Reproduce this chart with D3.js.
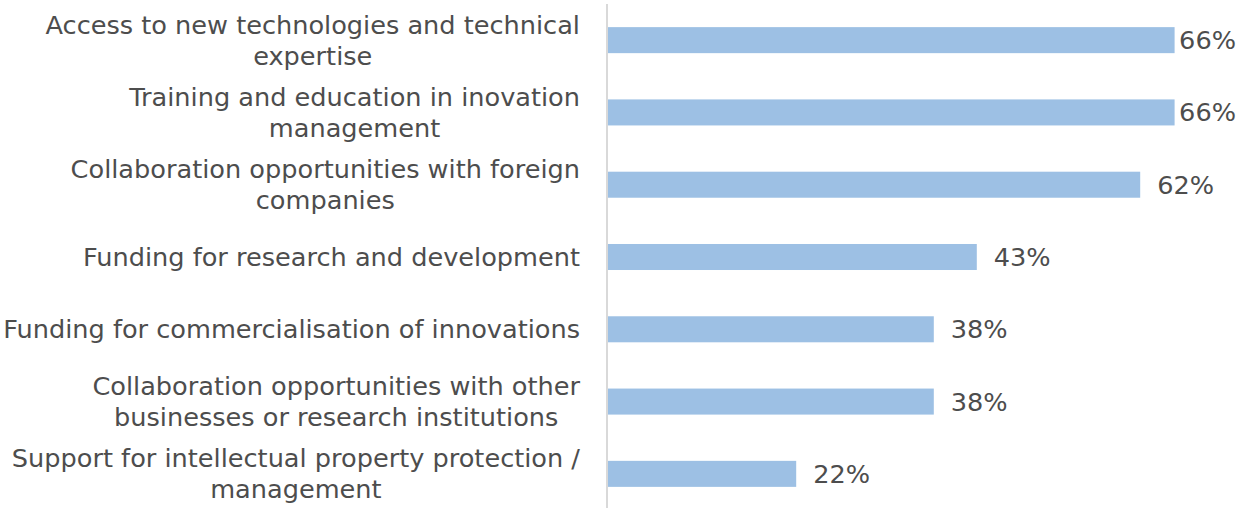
<!DOCTYPE html>
<html>
<head>
<meta charset="utf-8">
<script src="https://cdn.jsdelivr.net/npm/d3@7"></script>
<style>
  html, body { margin: 0; padding: 0; background: #fff; }
  svg { display: block; }
  text { font-family: "DejaVu Sans", sans-serif; fill: #4d4d4d; }
</style>
</head>
<body>
<svg id="chart" width="1239" height="508"></svg>
<script>
// Category labels, already broken into display lines
const categoryLines = [
  ["Access to new technologies and technical", "expertise"],
  ["Training and education in inovation", "management"],
  ["Collaboration opportunities with foreign", "companies"],
  ["Funding for research and development"],
  ["Funding for commercialisation of innovations"],
  ["Collaboration opportunities with other", "businesses or research institutions"],
  ["Support for intellectual property protection /", "management"]
];
const categories = categoryLines.map(l => l.join(" "));
// Share of respondents (%)
const values = [66, 66, 62, 43, 38, 38, 22];

const W = 1239, H = 508;
const svg = d3.select("#chart");

const axisX = 607;
const labelRight = 580;
const valueRight = 1236;
const fontSize = 25.6;
const lineGap = 31;

const x = d3.scaleLinear().domain([0, 70]).range([axisX, axisX + 70 * 8.6]);
const y = d3.scaleBand().domain(categories).range([4, 510])
  .paddingInner(0.64).paddingOuter(0.32);

// Bars
svg.append("g").selectAll("rect")
  .data(values)
  .join("rect")
  .attr("x", x(0))
  .attr("y", (d, i) => y(categories[i]))
  .attr("width", d => x(d) - x(0))
  .attr("height", y.bandwidth())
  .attr("fill", "#9dc0e4");

// Category axis line
svg.append("line")
  .attr("x1", axisX).attr("x2", axisX)
  .attr("y1", 4).attr("y2", H)
  .attr("stroke", "#d9d9d9").attr("stroke-width", 2);

// Category labels: block right-aligned, lines centred within the block
const labels = svg.append("g").style("font-size", fontSize + "px");
categoryLines.forEach((lines, i) => {
  const cy = y(categories[i]) + y.bandwidth() / 2;
  const g = labels.append("g");
  const ts = lines.map((s, k) => g.append("text")
    .attr("text-anchor", "middle")
    .attr("y", cy + (k - (lines.length - 1) / 2) * lineGap)
    .attr("dy", "0.35em")
    .text(s));
  const maxW = d3.max(ts, t => t.node().getComputedTextLength());
  ts.forEach(t => t.attr("x", labelRight - maxW / 2));
});

// Value labels after each bar, kept inside the plot on the right
const vl = svg.append("g").style("font-size", fontSize + "px");
values.forEach((v, i) => {
  const t = vl.append("text")
    .attr("y", y(categories[i]) + y.bandwidth() / 2)
    .attr("dy", "0.35em")
    .text(v + "%");
  const w = t.node().getComputedTextLength();
  t.attr("x", Math.min(x(v) + 17, valueRight - w));
});
</script>
</body>
</html>
